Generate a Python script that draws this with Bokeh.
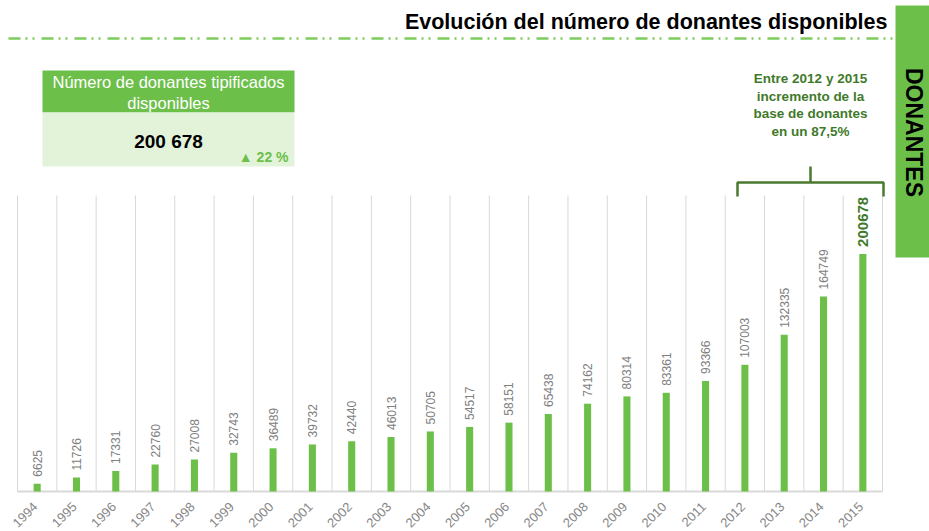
import numpy as np
from bokeh.plotting import figure
from bokeh.models import Range1d, ColumnDataSource
from bokeh.embed import file_html
from bokeh.resources import INLINE
from bokeh.core.properties import value

# ---------------- data ----------------
years = ["1994", "1995", "1996", "1997", "1998", "1999", "2000", "2001", "2002", "2003", "2004",
         "2005", "2006", "2007", "2008", "2009", "2010", "2011", "2012", "2013", "2014", "2015"]
donors = [6625, 11726, 17331, 22760, 27008, 32743, 36489, 39732, 42440, 46013, 50705,
          54517, 58151, 65438, 74162, 80314, 83361, 93366, 107003, 132335, 164749, 200678]

title_text = "Evolución del número de donantes disponibles"
side_text = "DONANTES"
kpi_header = ["Número de donantes tipificados", "disponibles"]
kpi_value = "200 678"
kpi_change = "▲ 22 %"
note_lines = ["Entre 2012 y 2015", "incremento de la", "base de donantes", "en un 87,5%"]

# ---------------- layout ----------------
W, H = 929, 531
plot_left, plot_right, plot_top, plot_bottom = 17, 882, 195, 491
y_max = 250000
n = len(years)
step = (plot_right - plot_left) / n
x_start = -0.5 - plot_left / step
x_end = n - 0.5 + (W - plot_right) / step
ppv = (plot_bottom - plot_top) / y_max
y_start = -(H - plot_bottom) / ppv
y_end = y_max + plot_top / ppv

FONT = value("Liberation Sans")
GREEN = "#6cc04a"
DARK = "#3f7a2a"

p = figure(width=W, height=H, x_range=Range1d(x_start, x_end), y_range=Range1d(y_start, y_end),
           output_backend="svg", toolbar_location=None, min_border=0)
p.axis.visible = False
p.grid.visible = False
p.outline_line_color = None
p.background_fill_color = "white"
p.border_fill_color = "white"
p.extra_x_ranges = {"px": Range1d(0, W)}
p.extra_y_ranges = {"px": Range1d(H, 0)}

idx = np.arange(n)
src = ColumnDataSource(dict(x=idx, top=donors, lab=[str(v) for v in donors], year=years))
reg = ColumnDataSource(dict(x=idx[:-1], top=donors[:-1], lab=[str(v) for v in donors[:-1]]))
last = ColumnDataSource(dict(x=idx[-1:], top=donors[-1:], lab=[str(v) for v in donors[-1:]]))

# grid lines (category boundaries) and baseline
bounds = np.arange(n + 1) - 0.5
p.segment(x0=bounds, y0=0, x1=bounds, y1=y_max, line_color="#d8d8d8", line_width=1)
p.segment(x0=[-0.5], y0=[0], x1=[n - 0.5], y1=[0], line_color="#d9d9d9", line_width=2)

# bars
p.vbar(x="x", top="top", width=0.18, source=src, fill_color=GREEN, line_color=None)

# value labels
p.text(x="x", y="top", text="lab", source=reg, angle=np.pi / 2, text_align="left",
       text_baseline="middle", y_offset=-7, text_color="#808080", text_font=FONT,
       text_font_size="12px")
p.text(x="x", y="top", text="lab", source=last, angle=np.pi / 2, text_align="left",
       text_baseline="middle", y_offset=-7, text_color=DARK, text_font=FONT,
       text_font_size="15px", text_font_style="bold")

# year tick labels
p.text(x="x", y=0, text="year", source=src, angle=np.pi / 4, text_align="right",
       text_baseline="middle", x_offset=-2, y_offset=13, text_color="#878787",
       text_font=FONT, text_font_size="13px")

# title + dash-dot rule
p.text(x=[887], y=[21], text=[title_text], x_range_name="px", y_range_name="px",
       text_align="right", text_baseline="middle", text_color="black", text_font=FONT,
       text_font_size="21.5px", text_font_style="bold")
p.line(x=[8, 892], y=[38, 38], x_range_name="px", y_range_name="px", line_color="#7dcb5c",
       line_width=2.5, line_dash="12 5 2 5 2 7")

# side box
p.quad(left=[895], right=[929], top=[5], bottom=[257], x_range_name="px", y_range_name="px",
       fill_color=GREEN, line_color=None)
p.text(x=[913], y=[132], text=[side_text], x_range_name="px", y_range_name="px",
       angle=-np.pi / 2, text_align="center", text_baseline="middle", text_color="black",
       text_font=FONT, text_font_size="23px", text_font_style="bold")

# KPI box
p.quad(left=[42], right=[294], top=[70], bottom=[112], x_range_name="px", y_range_name="px",
       fill_color=GREEN, line_color=None)
p.quad(left=[42], right=[294], top=[112], bottom=[166], x_range_name="px", y_range_name="px",
       fill_color="#e2f3da", line_color=None)
p.text(x=[168, 168], y=[81, 102], text=kpi_header, x_range_name="px", y_range_name="px",
       text_align="center", text_baseline="middle", text_color="white", text_font=FONT,
       text_font_size="16.5px")
p.text(x=[168], y=[141], text=[kpi_value], x_range_name="px", y_range_name="px",
       text_align="center", text_baseline="middle", text_color="black", text_font=FONT,
       text_font_size="19px", text_font_style="bold")
p.text(x=[288], y=[156], text=[kpi_change], x_range_name="px", y_range_name="px",
       text_align="right", text_baseline="middle", text_color=GREEN, text_font=FONT,
       text_font_size="14px", text_font_style="bold")

# annotation
p.text(x=[810] * 4, y=[78, 95.5, 113, 130.5], text=note_lines, x_range_name="px",
       y_range_name="px", text_align="center", text_baseline="middle", text_color=DARK,
       text_font=FONT, text_font_size="13.5px", text_font_style="bold")
p.line(x=[737, 737, 883, 883], y=[196, 182, 182, 196], x_range_name="px", y_range_name="px",
       line_color="#4a7a2e", line_width=2.5)
p.line(x=[810, 810], y=[166, 182], x_range_name="px", y_range_name="px",
       line_color="#4a7a2e", line_width=2.5)

open("out.html", "w").write(file_html(p, INLINE))
